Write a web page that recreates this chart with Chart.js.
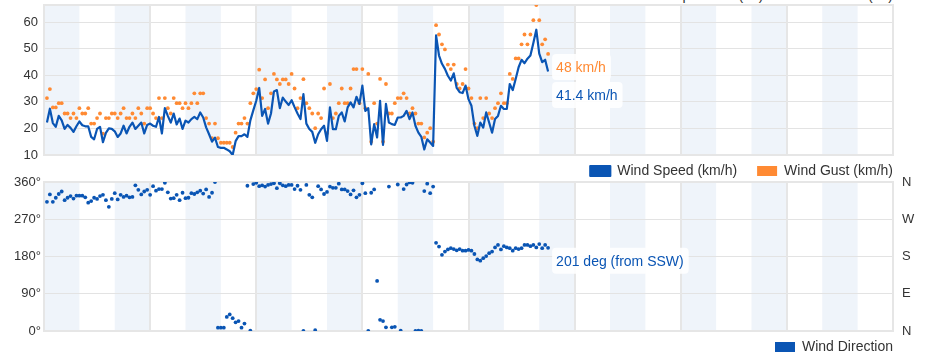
<!DOCTYPE html>
<html>
<head>
<meta charset="utf-8">
<script src="https://cdn.jsdelivr.net/npm/chart.js"></script>
<style>
  html, body { margin: 0; padding: 0; background: #fff; overflow: hidden; }
  body { width: 940px; height: 354px; position: relative; }
  canvas { position: absolute; left: 0; }
  #speedChart { top: 0; }
  #dirChart { top: 170px; }
  .cut { position: absolute; top: -12px; font: 14px Arial, "Liberation Sans", sans-serif; color: #333; line-height: 14px; white-space: nowrap; }
</style>
</head>
<body>
<div class="cut" style="left:656px">Temperature (°C)</div>
<div class="cut" style="right:47px">Dew Point (°C)</div>
<canvas id="speedChart" width="940" height="199"></canvas>
<canvas id="dirChart" width="940" height="205"></canvas>
<script>
// samples every 5 minutes, starting 00:05
const startMinute = 5;
const stepMinutes = 5;

const windSpeed = [
    22.2, 27.4, 22, 20.6, 24.7, 23, 19.8, 21.3, 20.2, 18.7,
    20.8, 22.6, 21.2, 20.8, 20.8, 16.8, 15.9, 19.8, 20.6, 14.8,
    18.3, 20, 19.8, 18.9, 16.8, 18.1, 21, 18.1, 20.6, 22.2,
    19.8, 21, 22.2, 18.1, 21.3, 21.8, 21, 20.6, 24.3, 18.1,
    27.6, 24.7, 22.2, 25.6, 21.5, 23.7, 19.8, 22.9, 22.2, 23.5,
    24.3, 23.5, 26, 24.1, 20.4, 17.8, 15, 16.5, 13, 12.7,
    12.7, 12.1, 11.4, 10, 15.2, 17.1, 17.1, 17.8, 16.8, 23,
    26.8, 30.4, 35.2, 24.7, 27.3, 21.8, 25.6, 33.9, 34.4, 27.6,
    31.6, 30.1, 28.8, 30.6, 28, 25.6, 23.5, 32.9, 21.8, 19.8,
    18.7, 14.6, 17.8, 19.7, 21, 15.3, 27.9, 19.7, 19.7, 24.7,
    26, 22.6, 27.9, 29.8, 27.9, 31.9, 29.2, 36.1, 26.6, 27.6,
    14, 21.6, 16.6, 30.4, 13.8, 29.2, 22.2, 21.6, 21.3, 24.1,
    24.1, 24.7, 26.6, 23.5, 26, 21, 18.4, 16.8, 12.1, 15.9,
    14.7, 13.4, 55, 47.4, 44.3, 42.4, 39.8, 38, 40.7, 35.2,
    33.6, 33.3, 36.1, 31, 28.5, 21, 17.2, 22.2, 20.3, 26,
    22.2, 18.4, 23.5, 24.7, 28.5, 27.3, 27.3, 36.7, 34.4, 38.6,
    43, 45.8, 44.5, 46.2, 47.4, 52.1, 57.1, 48.1, 44.9, 45.8,
    41.4
];

const windGust = [
    31.4, 34.8, 27.9, 27.9, 29.5, 29.5, 25.6, 25.6, 23.9, 25.6,
    23.9, 27.6, 25.6, 25.6, 27.6, 21.8, 21.8, 23.9, 25.6, 18,
    23.9, 23.9, 25.6, 25.6, 23.9, 25.6, 27.6, 23.9, 23.9, 25.6,
    23.9, 27.6, 25.6, 21.8, 27.6, 27.6, 25.6, 23.9, 31.4, 23.9,
    31.4, 27.6, 25.6, 31.4, 29.5, 29.5, 27.6, 29.5, 27.6, 29.5,
    33.2, 29.5, 33.2, 33.2, 23.9, 21.8, 16.3, 21.8, 16.3, 14.6,
    14.6, 14.6, 14.6, 13, 18.4, 21.8, 21.8, 23.9, 21.8, 29.5,
    33.2, 34.8, 42.1, 31.4, 38.4, 27.6, 33.2, 40.5, 38.4, 36.7,
    38.4, 38.4, 36.7, 40.5, 35, 27.6, 31.4, 38.5, 29.5, 27.6,
    25.6, 20.1, 25.6, 23.9, 35, 18.2, 36.7, 23.9, 25.6, 29.5,
    35, 29.5, 29.5, 35, 42.3, 42.3, 29.5, 42.3, 27.6, 40.5,
    15, 29.5, 21.8, 38.6, 15, 36.7, 25.6, 25.6, 29.5, 31.4,
    31.4, 33.2, 31.4, 25.6, 27.6, 25.6, 21.8, 21.8, 16.6, 18.4,
    20.1, 15, 58.8, 55.3, 51.6, 49.7, 44, 42.3, 44, 36.7,
    35, 36.7, 42.3, 35, 31.4, 21.8, 20.1, 31.4, 23.9, 31.4,
    25.6, 23.9, 27.6, 29.5, 33.2, 29.5, 29.5, 40.5, 38.6, 46.3,
    46.3, 51.6, 55.3, 51.6, 55.3, 60.7, 66.4, 60.7, 51.6, 53.5,
    48
];

const windDir = [
    312, 330, 312, 322, 331, 337, 316, 322, 326, 320,
    327, 327, 327, 323, 310, 314, 322, 319, 326, 329,
    316, 300, 319, 333, 318, 329, 324, 327, 323, 324,
    352, 341, 330, 337, 341, 329, 350, 339, 343, 343,
    358, 335, 320, 321, 329, 316, 334, 321, 322, 333,
    331, 335, 339, 332, 342, 324, 334, 360, 8, 8,
    8, 34, 40, 31, 21, 24, 8, 18, 351, 1,
    355, 358, 350, 352, 349, 353, 355, 357, 345, 357,
    352, 350, 353, 353, 343, 351, 341, 0, 353, 329,
    323, 2, 350, 342, 331, 336, 349, 346, 346, 356,
    342, 342, 338, 330, 340, 323, 329, 357, 333, 0,
    334, 342, 121, 27, 24, 9, 349, 9, 10, 354,
    1, 343, 354, 359, 358, 0, 1, 0, 338, 356,
    333, 349, 213, 204, 184, 192, 197, 200, 198, 195,
    198, 194, 194, 196, 194, 186, 173, 170, 176, 181,
    188, 192, 202, 208, 197, 205, 202, 200, 194, 200,
    198, 200, 208, 208, 205, 208, 202, 210, 200, 208,
    201
];

const speedTicks = [10, 20, 30, 40, 50, 60];
const dirTicks = ["0°", "90°", "180°", "270°", "360°"];
const compassTicks = ["N", "E", "S", "W", "N"];
const compass16 = ["N", "NNE", "NE", "ENE", "E", "ESE", "SE", "SSE",
                   "S", "SSW", "SW", "WSW", "W", "WNW", "NW", "NNW"];

const times = windSpeed.map((v, i) => startMinute + i * stepMinutes);
const toPoints = arr => arr.map((v, i) => ({x: times[i], y: v}));

const BLUE = "#0a55b4";
const ORANGE = "#ff8a33";
const FONT = 'Arial, "Liberation Sans", sans-serif';

Chart.defaults.font.family = FONT;
Chart.defaults.font.size = 13;
Chart.defaults.color = "#333";

// hourly shading, 3-hour lines and frame round the plot
const hourBands = {
    id: "hourBands",
    beforeDraw(chart) {
        const {ctx, chartArea: a, scales: {x}} = chart;
        ctx.save();
        ctx.fillStyle = "#eff4fa";
        for (let h = 0; h < 24; h += 2) {
            const x0 = x.getPixelForValue(h * 60);
            const x1 = x.getPixelForValue((h + 1) * 60);
            ctx.fillRect(x0, a.top, x1 - x0, a.bottom - a.top);
        }
        ctx.restore();
    },
    beforeDatasetsDraw(chart) {
        const {ctx, chartArea: a, scales: {x}} = chart;
        ctx.save();
        ctx.strokeStyle = "#e6e6e6";
        ctx.lineWidth = 2;
        for (let h = 3; h < 24; h += 3) {
            const px = Math.round(x.getPixelForValue(h * 60));
            ctx.beginPath();
            ctx.moveTo(px, a.top);
            ctx.lineTo(px, a.bottom);
            ctx.stroke();
        }
        ctx.strokeRect(a.left, a.top, a.right - a.left, a.bottom - a.top);
        ctx.restore();
    }
};

// put the legend just under the plot, ending at its right edge
const legendPlace = {
    id: "legendPlace",
    afterLayout(chart) {
        const lg = chart.legend;
        const pad = lg.options.labels.padding;
        const dx = chart.chartArea.right + pad - lg.right;
        const dy = chart.chartArea.bottom + 16 - (lg.top + pad + 7);
        lg.left += dx; lg.right += dx;
        lg.top += dy; lg.bottom += dy;
    }
};

// value boxes next to the last point of each series
const lastLabels = {
    id: "lastLabels",
    afterDatasetsDraw(chart, args, opts) {
        const ctx = chart.ctx;
        let prevBottom = -Infinity;
        ctx.save();
        ctx.font = "14px " + FONT;
        ctx.textBaseline = "middle";
        opts.items.forEach(item => {
            const meta = chart.getDatasetMeta(item.dataset);
            const pt = meta.data[meta.data.length - 1];
            const w = ctx.measureText(item.text).width + 9;
            const h = 26;
            const left = pt.x + 4;
            const top = Math.max(pt.y, prevBottom + 2);
            ctx.fillStyle = "rgba(255,255,255,0.88)";
            ctx.beginPath();
            ctx.roundRect(left, top, w, h, 4);
            ctx.fill();
            ctx.fillStyle = item.color;
            ctx.fillText(item.text, left + 4, top + h / 2 + 1);
            prevBottom = top + h;
        });
        ctx.restore();
    }
};

// fixed axis width, no extra room for the end labels
const fixWidth = w => s => { s.width = w; s.paddingTop = 0; s.paddingBottom = 0; };

const xAxis = {
    type: "linear",
    min: 0,
    max: 1440,
    display: false
};

const legendOpts = {
    position: "bottom",
    align: "end",
    labels: {
        boxWidth: 20,
        boxHeight: 10,
        padding: 20,
        color: "#333",
        font: {size: 14}
    }
};

const lastSpeed = windSpeed[windSpeed.length - 1];
const lastGust = windGust[windGust.length - 1];
const lastDir = windDir[windDir.length - 1];

new Chart(document.getElementById("speedChart"), {
    type: "line",
    data: {
        datasets: [{
            label: "Wind Speed (km/h)",
            data: toPoints(windSpeed),
            borderColor: BLUE,
            backgroundColor: BLUE,
            borderWidth: 2.2,
            borderJoinStyle: "round",
            pointRadius: 0,
            tension: 0
        }, {
            label: "Wind Gust (km/h)",
            data: toPoints(windGust),
            showLine: false,
            borderColor: ORANGE,
            backgroundColor: ORANGE,
            borderWidth: 0,
            pointRadius: 1.9,
            pointBorderWidth: 0
        }]
    },
    options: {
        responsive: false,
        animation: false,
        devicePixelRatio: 1,
        layout: {padding: {top: 5, right: 47, left: 0, bottom: 0}},
        scales: {
            x: xAxis,
            y: {
                min: 10,
                max: 66.4,
                afterFit: fixWidth(44),
                afterBuildTicks: s => { s.ticks = speedTicks.map(v => ({value: v})); },
                ticks: {padding: 6, font: {size: 13}, color: "#333"},
                grid: {color: "#e3e3e3", drawTicks: false},
                border: {display: false}
            }
        },
        plugins: {
            legend: legendOpts,
            tooltip: {enabled: false},
            lastLabels: {
                items: [
                    {dataset: 1, text: lastGust + " km/h", color: ORANGE},
                    {dataset: 0, text: lastSpeed + " km/h", color: BLUE}
                ]
            }
        }
    },
    plugins: [hourBands, legendPlace, lastLabels]
});

new Chart(document.getElementById("dirChart"), {
    type: "scatter",
    data: {
        datasets: [{
            label: "Wind Direction",
            data: toPoints(windDir),
            borderColor: BLUE,
            backgroundColor: BLUE,
            borderWidth: 0,
            pointRadius: 1.9,
            pointBorderWidth: 0
        }]
    },
    options: {
        responsive: false,
        animation: false,
        devicePixelRatio: 1,
        layout: {padding: {top: 12, right: 0, left: 0, bottom: 0}},
        scales: {
            x: xAxis,
            y: {
                min: 0,
                max: 360,
                afterFit: fixWidth(44),
                afterBuildTicks: s => { s.ticks = dirTicks.map((t, i) => ({value: i * 90})); },
                ticks: {
                    padding: 3,
                    font: {size: 13},
                    color: "#333",
                    callback: (v, i) => dirTicks[i]
                },
                grid: {color: "#e3e3e3", drawTicks: false},
                border: {display: false}
            },
            y2: {
                position: "right",
                min: 0,
                max: 360,
                afterFit: fixWidth(47),
                afterBuildTicks: s => { s.ticks = compassTicks.map((t, i) => ({value: i * 90})); },
                ticks: {
                    padding: 9,
                    font: {size: 13},
                    color: "#333",
                    callback: (v, i) => compassTicks[i]
                },
                grid: {display: false, drawTicks: false},
                border: {display: false}
            }
        },
        plugins: {
            legend: legendOpts,
            tooltip: {enabled: false},
            lastLabels: {
                items: [
                    {dataset: 0, text: lastDir + " deg (from " + compass16[Math.round(lastDir / 22.5) % 16] + ")", color: BLUE}
                ]
            }
        }
    },
    plugins: [hourBands, legendPlace, lastLabels]
});
</script>
</body>
</html>
